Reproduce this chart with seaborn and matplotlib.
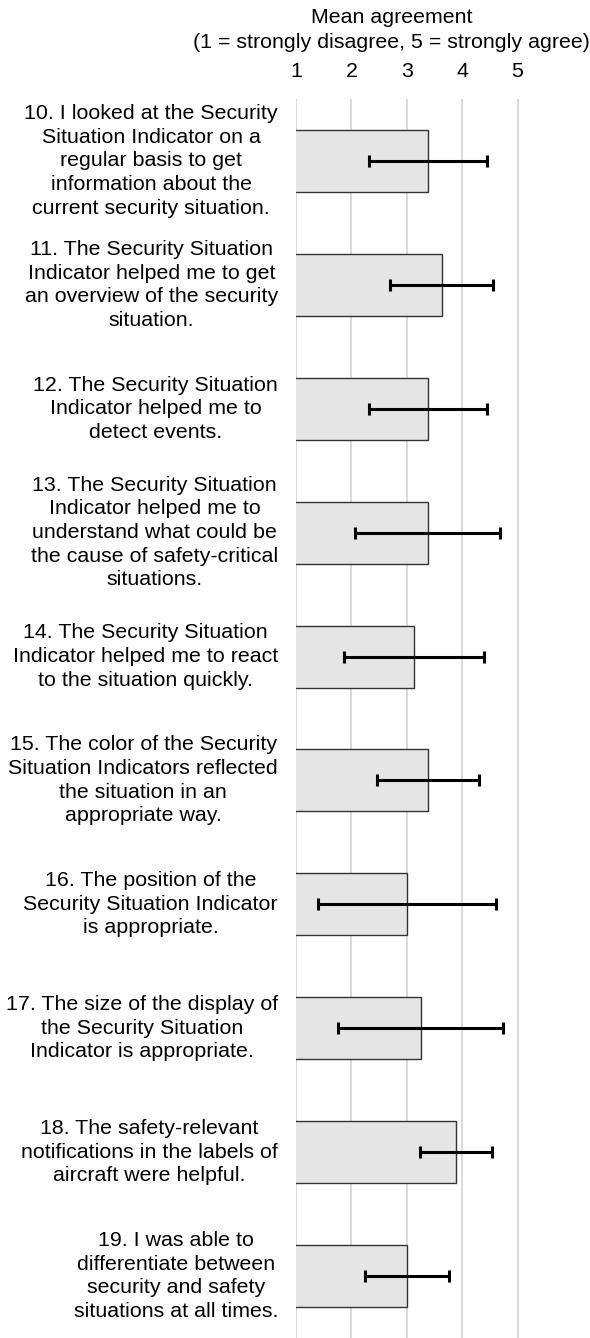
import numpy as np
import matplotlib
matplotlib.use("Agg")
import matplotlib.pyplot as plt
import seaborn as sns

# questionnaire items (top to bottom)
items = [
    "10. I looked at the Security\nSituation Indicator on a\nregular basis to get\ninformation about the\ncurrent security situation.",
    "11. The Security Situation\nIndicator helped me to get\nan overview of the security\nsituation.",
    "12. The Security Situation\nIndicator helped me to\ndetect events.",
    "13. The Security Situation\nIndicator helped me to\nunderstand what could be\nthe cause of safety-critical\nsituations.",
    "14. The Security Situation\nIndicator helped me to react\nto the situation quickly.",
    "15. The color of the Security\nSituation Indicators reflected\nthe situation in an\nappropriate way.",
    "16. The position of the\nSecurity Situation Indicator\nis appropriate.",
    "17. The size of the display of\nthe Security Situation\nIndicator is appropriate.",
    "18. The safety-relevant\nnotifications in the labels of\naircraft were helpful.",
    "19. I was able to\ndifferentiate between\nsecurity and safety\nsituations at all times.",
]
means = [3.38, 3.63, 3.38, 3.38, 3.13, 3.38, 3.00, 3.25, 3.88, 3.00]
sds = [1.07, 0.93, 1.07, 1.31, 1.26, 0.92, 1.61, 1.49, 0.65, 0.76]
xticks = [1, 2, 3, 4, 5]

sns.set_style("white", {"text.color": "black", "xtick.color": "black",
                        "ytick.color": "black", "axes.labelcolor": "black"})
plt.rcParams['font.family'] = ['Liberation Sans', 'DejaVu Sans']
FS = 15.4

fig = plt.figure(figsize=(5.9, 13.38), dpi=100)
ax = fig.add_axes([296 / 590, 0, 249.3 / 590, 1 - 99 / 1338])

sns.barplot(x=means, y=items, orient="h", color="#e5e5e5", edgecolor="#333333",
            linewidth=1.0, width=0.5, errorbar=None, ax=ax, saturation=1)
ax.errorbar(means, np.arange(len(items)), xerr=sds, fmt="none", ecolor="black",
            elinewidth=2.2, capsize=4, capthick=2.2, zorder=5)

ax.set_xlim(1, 5.5)
ax.set_ylim(len(items) - 0.5, -0.5)
ax.set_xticks(xticks)
ax.xaxis.tick_top()
ax.xaxis.set_label_position("top")
ax.tick_params(axis="x", length=0, pad=13, labelsize=FS)
ax.tick_params(axis="y", length=0, pad=13, labelsize=FS)
for t in ax.get_yticklabels():
    t.set_multialignment("center")
    t.set_linespacing(1.31)
    t.set_verticalalignment("center")

ax.set_xlabel("Mean agreement\n(1 = strongly disagree, 5 = strongly agree)",
              fontsize=FS, linespacing=1.42)
ax.xaxis.set_label_coords(0.384, 1.041)
ax.set_ylabel("")

ax.grid(axis="x", color="#d9d9d9", linewidth=1.4)
ax.grid(axis="y", visible=False)
ax.set_axisbelow(True)
for s in ax.spines.values():
    s.set_visible(False)

fig.savefig("out.png", dpi=100)
